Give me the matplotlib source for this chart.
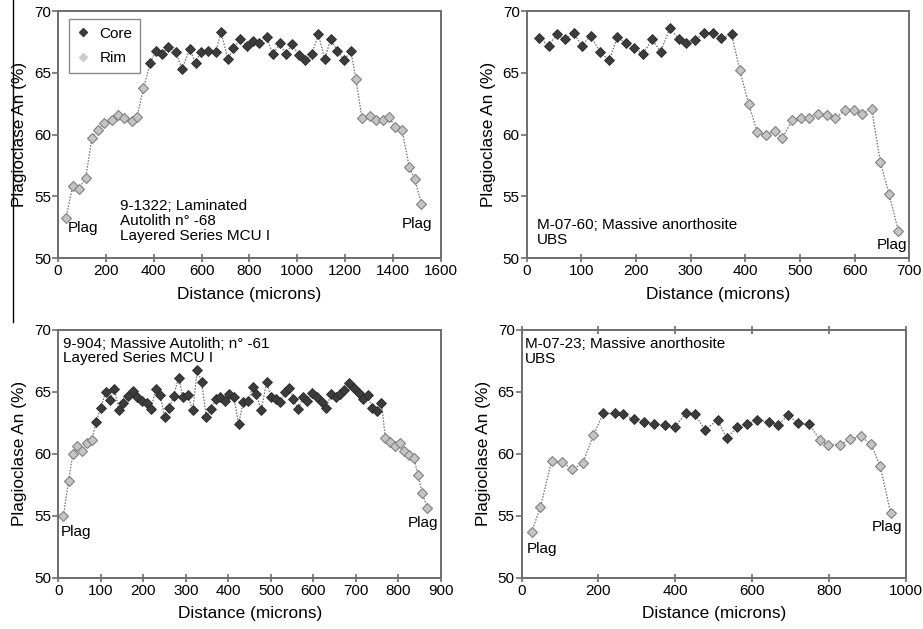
import matplotlib
matplotlib.use("Agg")
import matplotlib.pyplot as plt
from matplotlib.lines import Line2D

plt.rcParams['font.family'] = ['Liberation Sans', 'DejaVu Sans']

# 9-1322, laminated autolith (Layered Series MCU I)
dist_1322 = [33, 61, 88, 116, 142, 169, 191, 224, 249, 277, 308, 330, 357,
             386, 409, 435, 460, 492, 518, 550, 575, 596, 627, 660, 681, 710,
             733, 760, 791, 816, 841, 872, 897, 928, 951, 978, 1006, 1032,
             1060, 1088, 1114, 1139, 1167, 1196, 1223,
             1244, 1270, 1304, 1327, 1358, 1384, 1407, 1437, 1467, 1490, 1518]
an_1322 = [53.2, 55.8, 55.6, 56.5, 59.75, 60.4, 60.9, 61.2, 61.6, 61.3, 61.1, 61.4, 63.75,
           65.8, 66.8, 66.5, 67.1, 66.7, 65.3, 66.9, 65.8, 66.7, 66.8, 66.7, 68.3, 66.1,
           67.0, 67.7, 67.2, 67.6, 67.4, 67.9, 66.5, 67.4, 66.5, 67.3, 66.4, 66.0,
           66.5, 68.1, 66.1, 67.7, 66.8, 66.0, 66.8,
           64.5, 61.3, 61.5, 61.2, 61.2, 61.45, 60.6, 60.4, 57.4, 56.4, 54.4]
zone_1322 = "R" * 13 + "C" * 32 + "R" * 11

# M-07-60, massive anorthosite (UBS)
dist_m0760 = [23, 40, 55, 70, 86, 101, 117, 134, 151, 166, 182, 197, 212, 230,
              245, 262, 279, 291, 308, 325, 341, 356, 375,
              390, 406, 422, 437, 455, 468, 486, 502, 516, 533, 550, 565, 583,
              599, 614, 631, 647, 663, 680]
an_m0760 = [67.8, 67.2, 68.1, 67.7, 68.2, 67.2, 68.0, 66.7, 66.0, 67.9, 67.4, 67.0, 66.5, 67.7,
            66.7, 68.6, 67.7, 67.4, 67.65, 68.2, 68.25, 67.8, 68.1,
            65.2, 62.5, 60.2, 60.0, 60.25, 59.7, 61.2, 61.3, 61.35, 61.7, 61.6, 61.3, 62.0,
            62.0, 61.65, 62.1, 57.8, 55.2, 52.2]
zone_m0760 = "C" * 23 + "R" * 19

# 9-904, massive autolith (Layered Series MCU I)
dist_904 = [12, 24, 34, 45, 56, 67, 79,
            89, 100, 111, 121, 132, 143, 153, 164, 175, 185, 197, 208, 218, 229,
            240, 250, 261, 271, 283, 293, 304, 316, 327, 337, 348, 359, 370, 380,
            392, 402, 413, 424, 435, 447, 457, 466, 477, 490, 500, 511, 522, 533,
            543, 553, 564, 575, 586, 597, 608, 619, 630, 641, 652, 663, 673, 684,
            695, 706, 717, 728, 738, 749, 760,
            769, 779, 791, 804, 812, 824, 836, 846, 856, 868]
an_904 = [55.0, 57.8, 59.95, 60.6, 60.2, 60.85, 61.15,
          62.6, 63.7, 64.97, 64.35, 65.2, 63.5, 64.1, 64.7, 65.1, 64.55, 64.3, 64.1, 63.65, 65.2,
          64.75, 62.95, 63.7, 64.7, 66.15, 64.55, 64.75, 63.5, 66.8, 65.8, 62.95, 63.6, 64.4, 64.55,
          64.25, 64.8, 64.55, 62.4, 64.2, 64.3, 65.4, 64.8, 63.5, 65.8, 64.6, 64.4, 64.15, 65.0,
          65.35, 64.4, 63.6, 64.55, 64.3, 64.9, 64.55, 64.2, 63.7, 64.85, 64.55, 64.8, 65.15, 65.75,
          65.3, 64.9, 64.4, 64.75, 63.7, 63.45, 64.1,
          61.3, 60.95, 60.6, 60.85, 60.2, 59.9, 59.7, 58.3, 56.8, 55.65]
zone_904 = "R" * 7 + "C" * 63 + "R" * 10

# M-07-23, massive anorthosite (UBS)
dist_m0723 = [26, 49, 78, 104, 132, 159, 187,
              213, 242, 263, 292, 319, 345, 372, 399, 428, 451, 478, 510, 534,
              562, 587, 614, 643, 668, 694, 720, 749,
              777, 798, 829, 856, 884, 910, 934, 961]
an_m0723 = [53.7, 55.7, 59.45, 59.33, 58.77, 59.22, 61.55,
            63.26, 63.26, 63.18, 62.8, 62.57, 62.4, 62.3, 62.14, 63.3, 63.18, 61.93, 62.73, 61.26,
            62.19, 62.4, 62.7, 62.6, 62.33, 63.13, 62.46, 62.38,
            61.1, 60.72, 60.72, 61.2, 61.4, 60.78, 58.98, 55.2]
zone_m0723 = "R" * 7 + "C" * 21 + "R" * 8

CORE_FACE = "#3c3c3c"
RIM_FACE = "#c4c4c4"
RIM_EDGE = "#808080"
FRAME = "#6e6e6e"


def draw_profile(ax, dist, an, zone, xmax, xstep):
    # dotted trace through every analysis, then core / rim symbols on top
    ax.plot(dist, an, ls=(0, (1.2, 1.2)), color="#6e6e6e", lw=0.9, zorder=1)
    core_x = [d for d, z in zip(dist, zone) if z == "C"]
    core_y = [a for a, z in zip(an, zone) if z == "C"]
    rim_x = [d for d, z in zip(dist, zone) if z == "R"]
    rim_y = [a for a, z in zip(an, zone) if z == "R"]
    ax.plot(rim_x, rim_y, ls="none", marker="D", ms=5.0, mfc=RIM_FACE,
            mec=RIM_EDGE, mew=0.8, zorder=2)
    ax.plot(core_x, core_y, ls="none", marker="D", ms=5.0, mfc=CORE_FACE,
            mec="#2a2a2a", mew=0.6, zorder=3)

    ax.set_xlim(0, xmax)
    ax.set_ylim(50, 70)
    ax.set_xticks(range(0, xmax + 1, xstep))
    ax.set_yticks(range(50, 71, 5))
    ax.tick_params(axis="x", direction="inout", length=6, width=1.2, pad=1.5,
                   color=FRAME, labelsize=11)
    ax.tick_params(axis="y", direction="out", length=4, width=1.2, pad=1,
                   color=FRAME, labelsize=11)
    for sp in ax.spines.values():
        sp.set_color(FRAME)
        sp.set_linewidth(1.4)
    ax.set_xlabel("Distance (microns)", fontsize=12.4, labelpad=6)
    ax.set_ylabel("Plagioclase An (%)", fontsize=12.4, labelpad=5)


fig = plt.figure(figsize=(9.23, 6.29), dpi=100)
ax1 = fig.add_axes([0.0628, 0.5898, 0.415, 0.3927])
ax2 = fig.add_axes([0.5706, 0.5898, 0.4145, 0.3927])
ax3 = fig.add_axes([0.0632, 0.0816, 0.4146, 0.3938])
ax4 = fig.add_axes([0.5652, 0.0816, 0.416, 0.3938])

draw_profile(ax1, dist_1322, an_1322, zone_1322, 1600, 200)
draw_profile(ax2, dist_m0760, an_m0760, zone_m0760, 700, 100)
draw_profile(ax3, dist_904, an_904, zone_904, 900, 100)
draw_profile(ax4, dist_m0723, an_m0723, zone_m0723, 1000, 200)
ax4.tick_params(axis="x", top=True)

fs = 11
ax1.text(259, 53.0, "9-1322; Laminated\nAutolith n\u00b0 -68\nLayered Series MCU I",
         fontsize=fs, ha="left", va="center", linespacing=1.05)
ax1.text(40, 52.4, "Plag", fontsize=fs, ha="left", va="center")
ax1.text(1436, 52.75, "Plag", fontsize=fs, ha="left", va="center")

ax2.text(19, 52.05, "M-07-60; Massive anorthosite\nUBS", fontsize=fs,
         ha="left", va="center", linespacing=1.05)
ax2.text(641, 51.05, "Plag", fontsize=fs, ha="left", va="center")

ax3.text(10, 68.3, "9-904; Massive Autolith; n\u00b0 -61\nLayered Series MCU I",
         fontsize=fs, ha="left", va="center", linespacing=1.05)
ax3.text(6, 53.7, "Plag", fontsize=fs, ha="left", va="center")
ax3.text(822, 54.4, "Plag", fontsize=fs, ha="left", va="center")

ax4.text(9, 68.24, "M-07-23; Massive anorthosite\nUBS", fontsize=fs,
         ha="left", va="center", linespacing=1.05)
ax4.text(13, 52.3, "Plag", fontsize=fs, ha="left", va="center")
ax4.text(911, 54.1, "Plag", fontsize=fs, ha="left", va="center")

handles = [
    Line2D([], [], ls="none", marker="D", ms=3.6, mfc=CORE_FACE, mec=CORE_FACE),
    Line2D([], [], ls="none", marker="D", ms=3.6, mfc="#cccccc", mec="#cccccc"),
]
leg = ax1.legend(handles, ["Core", "Rim"], loc="upper left",
                 bbox_to_anchor=(0.0287, 0.9676), borderaxespad=0,
                 fontsize=fs, fancybox=False, framealpha=1, edgecolor="#8a8a8a",
                 handlelength=0.9, handletextpad=0.6, labelspacing=0.7,
                 borderpad=0.5)
leg.get_frame().set_linewidth(1.0)

# thin rule along the left margin
fig.add_artist(Line2D([12.5 / 923, 12.5 / 923], [1.0, 1 - 322 / 629],
                      transform=fig.transFigure, color="black", lw=1.0))

fig.savefig("out.png", dpi=100)
